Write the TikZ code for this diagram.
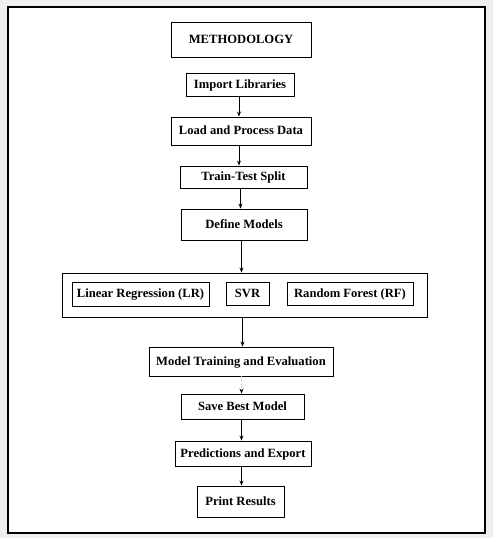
\documentclass[tikz,border=0pt]{standalone}
\usepackage{fontspec}
\setmainfont{Liberation Serif}
\usetikzlibrary{arrows.meta}
\definecolor{pagegray}{HTML}{EFEFEF}
\tikzset{
  box/.style={draw=black, line width=0.9pt, fill=white, inner sep=0pt, align=center,
    text height=10pt, text depth=2.5pt,
    font=\fontsize{12.6}{14}\selectfont\bfseries},
  flow/.style={draw=black, line width=0.8pt, -{Stealth[length=5pt,width=4pt]}},
  faint/.style={draw=gray!35, line width=0.8pt, densely dotted, -{Stealth[length=5pt,width=4pt,color=black]}}
}
\begin{document}
\begin{tikzpicture}[x=1pt,y=-1pt]
\useasboundingbox (0,0) rectangle (493,538);
\fill[pagegray] (0,0) rectangle (493,538);
\draw[line width=1.2pt, fill=white] (8,7) rectangle (485,533);

\node[box, minimum width=140pt, minimum height=35pt] (meth) at (241,40) {METHODOLOGY};
\node[box, minimum width=108pt, minimum height=23pt] (imp) at (240,84.5) {Import Libraries};
\node[box, minimum width=140pt, minimum height=28pt] (load) at (241,131) {Load and Process Data};
\node[box, minimum width=127pt, minimum height=22pt] (split) at (243.5,177) {Train-Test Split};
\node[box, minimum width=126pt, minimum height=31pt] (def) at (244,224.5) {Define Models};

\node[draw=black, line width=0.9pt, fill=white, minimum width=365pt, minimum height=44pt, inner sep=0pt] (cont) at (244.5,295) {};
\node[box, minimum width=137pt, minimum height=24pt] (lr) at (140.5,294) {Linear Regression (LR)};
\node[box, minimum width=43pt, minimum height=23pt] (svr) at (247.5,293.5) {SVR};
\node[box, minimum width=126pt, minimum height=23pt] (rf) at (350,293.5) {Random Forest (RF)};

\node[box, minimum width=184pt, minimum height=29pt] (train) at (241,361.5) {Model Training and Evaluation};
\node[box, minimum width=123pt, minimum height=25pt] (save) at (242.5,406.5) {Save Best Model};
\node[box, minimum width=136pt, minimum height=25pt] (pred) at (243,453.5) {Predictions and Export};
\node[box, minimum width=87pt, minimum height=31pt] (print) at (240.5,501.5) {Print Results};

\draw[flow] (imp.south -| 239,0) -- (load.north -| 239,0);
\draw[flow] (load.south -| 239,0) -- (split.north -| 239,0);
\draw[flow] (split.south -| 240.5,0) -- (def.north -| 240.5,0);
\draw[flow] (def.south -| 241.5,0) -- (cont.north -| 241.5,0);
\draw[flow] (cont.south -| 242.5,0) -- (train.north -| 242.5,0);
\draw[faint] (train.south -| 241.5,0) -- (save.north -| 241.5,0);
\draw[flow] (save.south -| 241.5,0) -- (pred.north -| 241.5,0);
\draw[flow] (pred.south -| 241.5,0) -- (print.north -| 241.5,0);
\end{tikzpicture}
\end{document}
